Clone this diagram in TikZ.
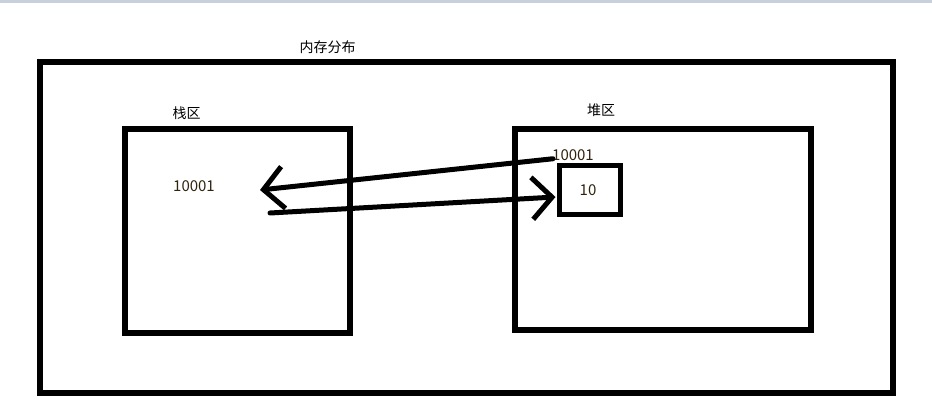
\documentclass[tikz,border=0pt]{standalone}
\usepackage{fontspec}
\setmainfont{Noto Sans CJK SC}
\usetikzlibrary{positioning,arrows.meta}

\definecolor{topbar}{RGB}{200,208,222}
\definecolor{numtext}{RGB}{50,35,15}

\begin{document}
\begin{tikzpicture}[
  x=1pt, y=-1pt,
  kasse/.style={draw, line width=5.5pt, minimum width=#1, inner sep=0pt, outer sep=0pt},
  etikett/.style={font=\fontsize{14}{16}\selectfont, inner sep=0pt},
  tall/.style={font=\fontsize{15}{17}\selectfont, text=numtext, inner sep=0pt},
  pil/.style={-{Straight Barb[length=20pt, width=42pt]}, line width=5pt, line cap=round, line join=round}
]
\useasboundingbox (0,0) rectangle (932,415);
\fill[topbar] (0,0) rectangle (932,3);

% memory outline and the two regions
\node[kasse=853pt, minimum height=331pt] (minne) at (466.5,227.5) {};
\node[etikett, above=8pt of minne.north, xshift=-139pt] (minnetittel) {内存分布};

\node[kasse=225pt, minimum height=204pt] (stabel) at (237.5,231) {};
\node[etikett, above=9pt of stabel.north, xshift=-51pt] (stabeltittel) {栈区};
\node[tall] (peker) at (194,186) {10001};

\node[kasse=296pt, minimum height=201pt] (haug) at (663,229.5) {};
\node[etikett, above=12pt of haug.north, xshift=-62pt] (haugtittel) {堆区};
\node[tall] (adresse) at (573,155) {10001};
\node[kasse=61pt, minimum height=49pt, line width=5pt] (verdi) at (590,190) {};
\node[tall] at ([xshift=-2pt]verdi) (tiverdi) {10};

% hand drawn pointers
\coordinate (tilbake) at (260,190);
\coordinate (ut) at (270,213);
\draw[pil] ([xshift=1pt,yshift=2pt]adresse.south west) -- (tilbake);
\draw[pil] (ut) -- ([xshift=-4pt,yshift=-7pt]verdi.west);
\end{tikzpicture}
\end{document}
